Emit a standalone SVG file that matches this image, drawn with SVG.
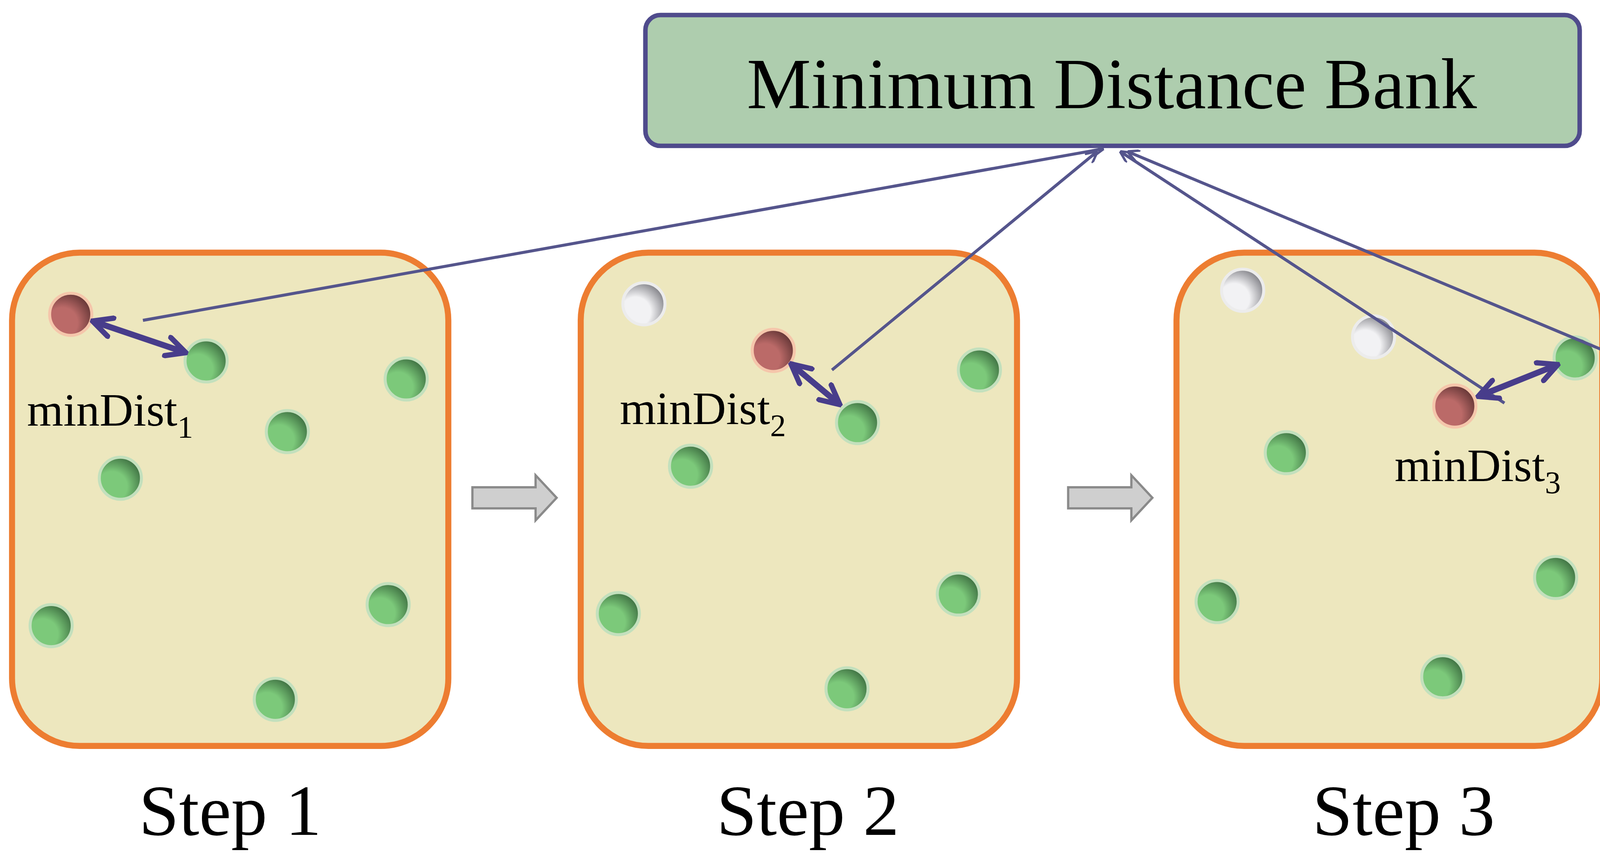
<svg xmlns="http://www.w3.org/2000/svg" width="6039" height="2187" viewBox="0 0 6039 2187">
<style>
.box{fill:#ede7be;stroke:#ed7d31;stroke-width:4}
.t{font-family:"Liberation Serif",serif;fill:#000}
.lbl{font-size:48px;text-anchor:middle}
.md{font-size:31px}
.link{stroke:#55558c;stroke-width:2;fill:none;marker-end:url(#ah)}
.dbl{stroke:#483d8b;stroke-width:4;fill:none;marker-start:url(#dh);marker-end:url(#dh)}
.g{fill:url(#gg);stroke:#c3e0bd;stroke-width:2}
.r{fill:url(#rg);stroke:#f5c6ab;stroke-width:2}
.s{fill:url(#sg);stroke:#ececec;stroke-width:2}
.ga{fill:#cfcfcf;stroke:#8a8a8a;stroke-width:1.5}
</style>
<defs>
<radialGradient id="gg" cx="0.3" cy="0.7" r="0.8"><stop offset="0.45" stop-color="#7cc97a"/><stop offset="1" stop-color="#3a6a3e"/></radialGradient>
<radialGradient id="rg" cx="0.3" cy="0.7" r="0.8"><stop offset="0.45" stop-color="#bb6a68"/><stop offset="1" stop-color="#5e3232"/></radialGradient>
<radialGradient id="sg" cx="0.3" cy="0.7" r="0.8"><stop offset="0.45" stop-color="#f2f2f4"/><stop offset="1" stop-color="#7a7a80"/></radialGradient>
<marker id="ah" viewBox="0 0 10 10" refX="9" refY="5" markerWidth="8" markerHeight="8" orient="auto" markerUnits="userSpaceOnUse"><path d="M0,0 L10,5 L0,10" fill="none" stroke="#55558c" stroke-width="2"/></marker>
<marker id="dh" viewBox="0 0 10 10" refX="8" refY="5" markerWidth="4" markerHeight="4" orient="auto-start-reverse"><path d="M1,1 L9,5 L1,9" fill="none" stroke="#483d8b" stroke-width="2.2" stroke-linecap="round"/></marker>
</defs>
<rect width="6039" height="2187" fill="#fff"/>
<g transform="scale(3.8514)">
<g id="bank"><rect x="429" y="10" width="621" height="87" rx="10" fill="#aecdae" stroke="#4f4b8c" stroke-width="3"/><text class="t" x="739" y="72" font-size="48" text-anchor="middle">Minimum Distance Bank</text></g>
<g id="step1"><rect class="box" x="8" y="168" width="290" height="328" rx="45"/>
<circle class="r" cx="47" cy="209" r="14"/><circle class="g" cx="137" cy="240" r="14"/><circle class="g" cx="270" cy="252" r="14"/><circle class="g" cx="191" cy="287" r="14"/><circle class="g" cx="80" cy="318" r="14"/><circle class="g" cx="34" cy="416" r="14"/><circle class="g" cx="258" cy="402" r="14"/><circle class="g" cx="183" cy="465" r="14"/>
<text class="t md" x="18" y="283">minDist<tspan font-size="21" dy="8">1</tspan></text>
<text class="t lbl" x="153" y="555">Step 1</text></g>
<g id="step2"><rect class="box" x="386" y="168" width="290" height="328" rx="45"/>
<circle class="s" cx="428" cy="202" r="14"/><circle class="r" cx="514" cy="233" r="14"/><circle class="g" cx="570" cy="281" r="14"/><circle class="g" cx="651" cy="246" r="14"/><circle class="g" cx="459" cy="310" r="14"/><circle class="g" cx="411" cy="408" r="14"/><circle class="g" cx="637" cy="395" r="14"/><circle class="g" cx="563" cy="458" r="14"/>
<text class="t md" x="412" y="282">minDist<tspan font-size="21" dy="8">2</tspan></text>
<text class="t lbl" x="537" y="555">Step 2</text></g>
<g id="step3"><rect class="box" x="782" y="168" width="283" height="328" rx="45"/>
<circle class="s" cx="826" cy="193" r="14"/><circle class="s" cx="913" cy="224" r="14"/><circle class="r" cx="967" cy="270" r="14"/><circle class="g" cx="1047" cy="238" r="14"/><circle class="g" cx="855" cy="301" r="14"/><circle class="g" cx="1034" cy="384" r="14"/><circle class="g" cx="809" cy="400" r="14"/><circle class="g" cx="959" cy="450" r="14"/>
<text class="t md" x="927" y="320">minDist<tspan font-size="21" dy="8">3</tspan></text>
<text class="t lbl" x="933" y="555">Step 3</text></g>
<g id="stepn"><rect class="box" x="1277" y="168" width="286" height="328" rx="45"/>
<circle class="s" cx="1316" cy="198" r="14"/><circle class="s" cx="1402" cy="230" r="14"/><circle class="s" cx="1537" cy="243" r="14"/><circle class="s" cx="1458" cy="276" r="14"/><circle class="s" cx="1529" cy="391" r="14"/><circle class="s" cx="1451" cy="457" r="14"/><circle class="g" cx="1346" cy="308" r="14"/><circle class="r" cx="1300" cy="405" r="14"/>
<text class="t md" x="1330" y="388">minDist<tspan font-size="21" dy="8">n</tspan></text>
<text class="t lbl" x="1420" y="555">Step n</text></g>
<g id="flow">
<path class="ga" d="M314,324 h42 v-8 l14,15 l-14,15 v-8 h-42 z"/>
<path class="ga" d="M710,324 h42 v-8 l14,15 l-14,15 v-8 h-42 z"/>
<path class="ga" d="M1106,324 h42 v-8 l14,15 l-14,15 v-8 h-42 z"/>
<text class="t" x="1218" y="343" font-size="44" text-anchor="middle">…</text>
</g>
<g id="connectors">
<line class="link" x1="95" y1="213" x2="733" y2="99"/>
<line class="link" x1="553" y1="246" x2="729" y2="101"/>
<line class="link" x1="1000" y1="268" x2="745" y2="101"/>
<line class="link" x1="1310" y1="335" x2="750" y2="101"/>
<line class="dbl" x1="63" y1="214" x2="122" y2="234"/>
<line class="dbl" x1="527" y1="243" x2="557" y2="268"/>
<line class="dbl" x1="984" y1="263" x2="1034" y2="243"/>
<line class="dbl" x1="1337" y1="324" x2="1306" y2="391"/>
</g>
</g>
</svg>
